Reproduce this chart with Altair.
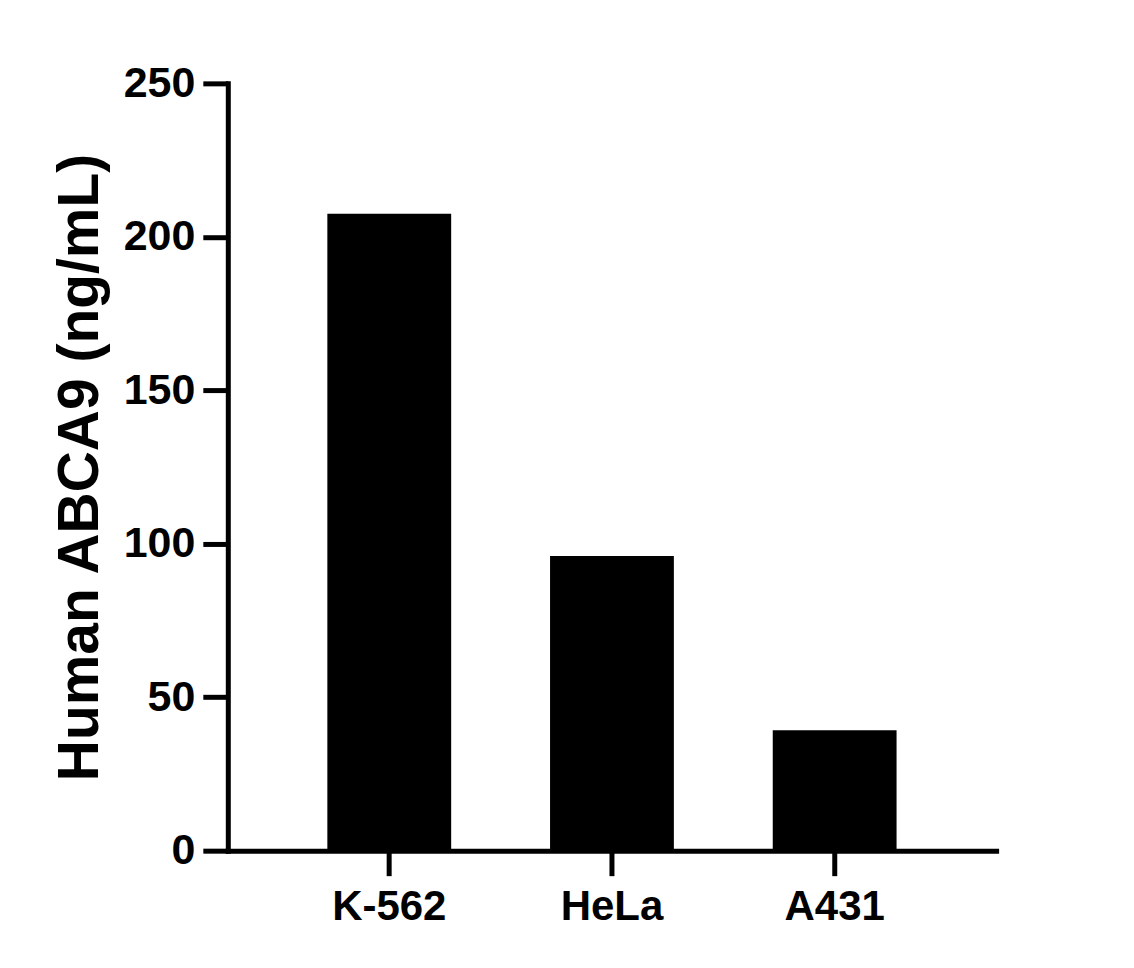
import altair as alt
import pandas as pd

categories = ["K-562", "HeLa", "A431"]
values = [207.5, 96.0, 39.2]
y_ticks = [0, 50, 100, 150, 200, 250]

df = pd.DataFrame({"cell": categories, "conc": values})

FONT = "Liberation Sans"

chart = alt.Chart(df).mark_bar(color="black").encode(
    x=alt.X("cell:N", sort=categories, title=None,
            scale=alt.Scale(paddingInner=0.444, paddingOuter=0.447),
            axis=alt.Axis(labelAngle=0, labelFontSize=42, labelFont=FONT,
                          labelFontWeight="bold", labelColor="black",
                          labelPadding=11, tickSize=25, tickWidth=5,
                          tickColor="black", domainWidth=5, domainColor="black",
                          domainCap="square")),
    y=alt.Y("conc:Q", title="Human ABCA9 (ng/mL)",
            scale=alt.Scale(domain=[0, 250], nice=False),
            axis=alt.Axis(values=y_ticks, labelFontSize=43, labelFont=FONT,
                          labelFontWeight="bold", labelColor="black",
                          labelPadding=8, tickSize=25, tickWidth=5,
                          tickColor="black", domainWidth=5, domainColor="black",
                          domainCap="square", grid=False,
                          titleFontSize=57, titleFont=FONT, titleFontWeight="bold",
                          titleColor="black", titlePadding=14)),
).properties(
    width=769, height=768,
    autosize=alt.AutoSizeParams(type="none"),
    padding={"left": 220, "top": 75, "right": 130, "bottom": 110},
).configure(
    background="white",
    view=alt.ViewConfig(stroke="transparent", strokeWidth=0),
)

chart.save("out.html", embed_options={"renderer": "svg", "actions": False})
